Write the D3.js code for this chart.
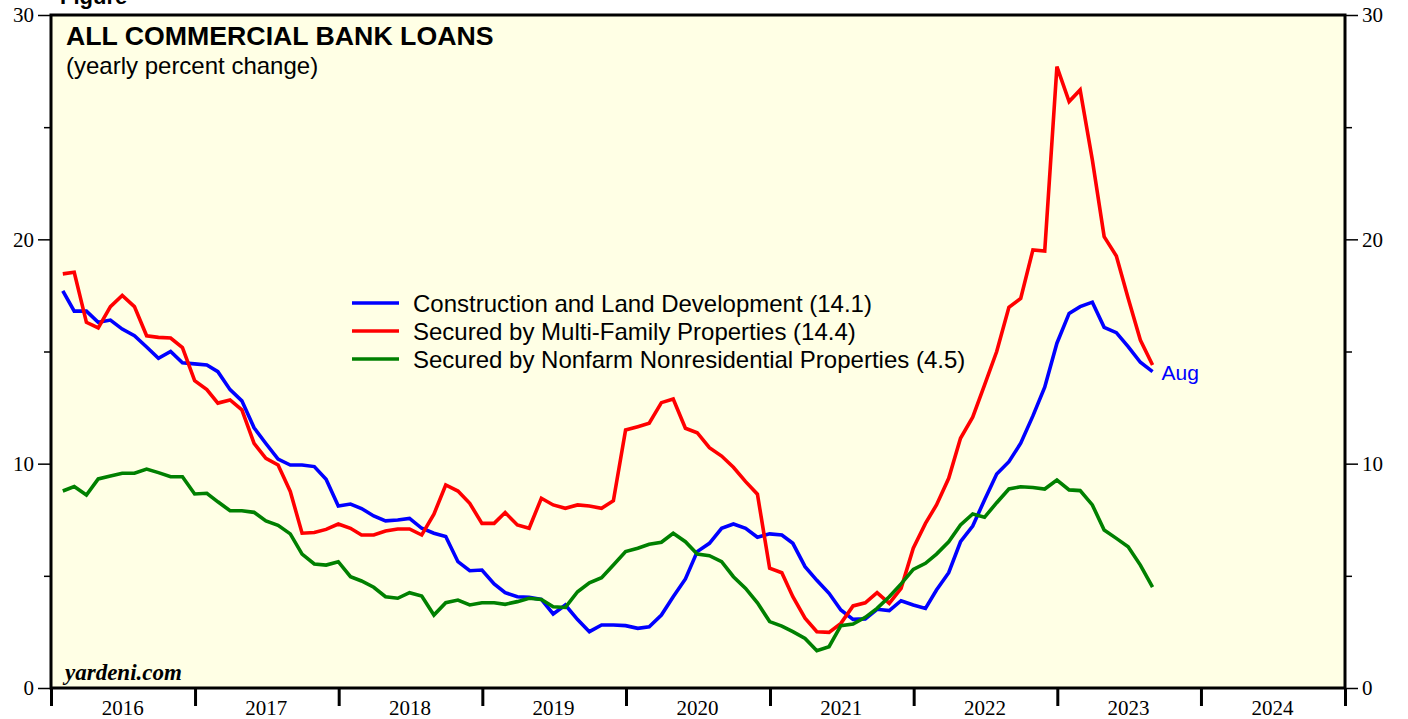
<!DOCTYPE html>
<html>
<head>
<meta charset="utf-8">
<script src="https://cdn.jsdelivr.net/npm/d3@7"></script>
<style>
  body { margin: 0; background: #fff; }
  svg { display: block; }
</style>
</head>
<body>
<svg id="chart"></svg>
<script>
// monthly values, Jan 2016 .. Aug 2023 (yearly % change)
const startYear = 2016;
const construction = [
  17.7, 16.8, 16.8, 16.3, 16.4, 16.0, 15.7, 15.2, 14.7, 15.0,
  14.5, 14.45, 14.4, 14.1, 13.3, 12.8, 11.6, 10.9, 10.2, 9.94,
  9.94, 9.87, 9.3, 8.11, 8.2, 8.0, 7.67, 7.45, 7.49, 7.56,
  7.12, 6.9, 6.75, 5.63, 5.23, 5.26, 4.64, 4.25, 4.07, 4.04,
  3.95, 3.3, 3.7, 3.05, 2.51, 2.81, 2.81, 2.78, 2.66, 2.73,
  3.25, 4.07, 4.86, 6.08, 6.45, 7.12, 7.31, 7.12, 6.72, 6.87,
  6.82, 6.45, 5.41, 4.8, 4.22, 3.48, 3.06, 3.08, 3.51, 3.45,
  3.89, 3.7, 3.55, 4.37, 5.14, 6.52, 7.22, 8.38, 9.54, 10.09,
  10.91, 12.13, 13.41, 15.37, 16.7, 17.0, 17.2, 16.08, 15.84, 15.22,
  14.52, 14.1
];
const multiFamily = [
  18.46, 18.53, 16.3, 16.05, 17.0, 17.5, 17.0, 15.7, 15.63, 15.6,
  15.17, 13.7, 13.3, 12.7, 12.84, 12.4, 10.9, 10.24, 9.94, 8.76,
  6.9, 6.93, 7.07, 7.31, 7.12, 6.82, 6.82, 7.0, 7.09, 7.09,
  6.82, 7.75, 9.05, 8.78, 8.23, 7.34, 7.34, 7.82, 7.27, 7.12,
  8.46, 8.16, 8.01, 8.16, 8.11, 8.01, 8.35, 11.5, 11.65, 11.8,
  12.72, 12.88, 11.58, 11.38, 10.71, 10.34, 9.84, 9.2, 8.64, 5.34,
  5.14, 4.07, 3.11, 2.51, 2.48, 2.88, 3.66, 3.8, 4.25, 3.77,
  4.44, 6.23, 7.34, 8.16, 9.35, 11.13, 12.07, 13.5, 15.0, 16.97,
  17.37, 19.53, 19.48, 27.7, 26.14, 26.66, 23.54, 20.12, 19.26, 17.37,
  15.51, 14.4
];
const nonfarm = [
  8.78, 8.98, 8.6, 9.32, 9.45, 9.57, 9.57, 9.76, 9.6, 9.42,
  9.42, 8.65, 8.68, 8.3, 7.9, 7.9, 7.83, 7.45, 7.25, 6.87,
  5.97, 5.53, 5.48, 5.63, 4.96, 4.77, 4.49, 4.07, 4.0, 4.25,
  4.1, 3.25, 3.8, 3.92, 3.7, 3.8, 3.8, 3.73, 3.85, 4.0,
  3.95, 3.62, 3.59, 4.29, 4.69, 4.92, 5.48, 6.08, 6.23, 6.41,
  6.5, 6.9, 6.52, 5.97, 5.9, 5.63, 4.96, 4.44, 3.8, 2.96,
  2.76, 2.51, 2.21, 1.66, 1.84, 2.78, 2.85, 3.15, 3.55, 4.07,
  4.64, 5.29, 5.56, 5.97, 6.52, 7.27, 7.76, 7.61, 8.26, 8.87,
  8.97, 8.94, 8.87, 9.27, 8.83, 8.8, 8.16, 7.04, 6.67, 6.3,
  5.48, 4.5
];
const seriesNames = [
  "Construction and Land Development (14.1)",
  "Secured by Multi-Family Properties (14.4)",
  "Secured by Nonfarm Nonresidential Properties (4.5)"
];
const seriesColors = ["#0000ff", "#ff0000", "#008000"];
const yearTicks = [2016, 2017, 2018, 2019, 2020, 2021, 2022, 2023, 2024, 2025];
const yMajor = [0, 10, 20, 30];
const yMinor = [5, 15, 25];
const lastLabel = "Aug";

const W = 1408, H = 719;
const margin = { top: 15, right: 63, bottom: 31, left: 51 };
const pw = W - margin.left - margin.right;
const ph = H - margin.top - margin.bottom;

const svg = d3.select("#chart").attr("width", W).attr("height", H);

const sans = "Liberation Sans, Arial, sans-serif";
const serif = "Liberation Serif, Times New Roman, serif";

// cut-off figure caption at the very top
svg.append("text")
  .attr("x", 60).attr("y", 4)
  .style("font-family", sans)
  .style("font-weight", "bold").style("font-size", "22px")
  .text("Figure");

const x = d3.scaleTime()
  .domain([new Date(yearTicks[0], 0, 1), new Date(yearTicks[yearTicks.length - 1], 0, 1)])
  .range([0, pw]);
const y = d3.scaleLinear().domain([0, 30]).range([ph, 0]);

const g = svg.append("g").attr("transform", `translate(${margin.left},${margin.top})`);

g.append("rect")
  .attr("width", pw).attr("height", ph)
  .attr("fill", "#ffffe5");

// lines
const monthDate = i => new Date(startYear, i + 1, 0);
const line = d3.line()
  .x((d, i) => x(monthDate(i)))
  .y(d => y(d));

[construction, multiFamily, nonfarm].forEach((s, k) => {
  g.append("path")
    .datum(s)
    .attr("fill", "none")
    .attr("stroke", seriesColors[k])
    .attr("stroke-width", 3.6)
    .attr("d", line);
});

// frame
g.append("rect")
  .attr("width", pw).attr("height", ph)
  .attr("fill", "none")
  .attr("stroke", "#000").attr("stroke-width", 3);

// y axes (left and right)
const yLeft = d3.axisLeft(y).tickValues(yMajor).tickSize(13).tickPadding(4);
const yRight = d3.axisRight(y).tickValues(yMajor).tickSize(13).tickPadding(4);

const gl = g.append("g").call(yLeft);
const gr = g.append("g").attr("transform", `translate(${pw},0)`).call(yRight);
[gl, gr].forEach(a => {
  a.select(".domain").remove();
  a.selectAll("line").attr("stroke", "#000").attr("stroke-width", 1.5);
  a.selectAll("text").style("font-family", serif).style("font-size", "21px").attr("fill", "#000");
});
g.append("g").call(d3.axisLeft(y).tickValues(yMinor).tickSize(7).tickFormat(""))
  .call(a => a.select(".domain").remove())
  .selectAll("line").attr("stroke", "#000").attr("stroke-width", 1.5);
g.append("g").attr("transform", `translate(${pw},0)`)
  .call(d3.axisRight(y).tickValues(yMinor).tickSize(7).tickFormat(""))
  .call(a => a.select(".domain").remove())
  .selectAll("line").attr("stroke", "#000").attr("stroke-width", 1.5);

// x axis: year boundary ticks, labels mid-year
const gx = g.append("g").attr("transform", `translate(0,${ph})`)
  .call(d3.axisBottom(x).tickValues(yearTicks.map(v => new Date(v, 0, 1))).tickSize(18).tickFormat(""));
gx.select(".domain").remove();
gx.selectAll("line").attr("stroke", "#000").attr("stroke-width", 3);

g.append("g").selectAll("text")
  .data(yearTicks.slice(0, -1))
  .join("text")
  .attr("x", d => x(new Date(d, 6, 1)))
  .attr("y", ph + 27)
  .attr("text-anchor", "middle")
  .style("font-family", serif).style("font-size", "21px")
  .text(d => d);

// titles
g.append("text")
  .attr("x", 15).attr("y", 30)
  .style("font-family", sans).style("font-weight", "bold").style("font-size", "26.7px")
  .text("ALL COMMERCIAL BANK LOANS");
g.append("text")
  .attr("x", 15).attr("y", 59)
  .style("font-family", sans).style("font-size", "24px")
  .text("(yearly percent change)");
g.append("text")
  .attr("x", 14).attr("y", 665)
  .style("font-family", serif).style("font-weight", "bold").style("font-style", "italic")
  .style("font-size", "23px")
  .text("yardeni.com");

// legend
const legend = g.append("g").attr("transform", "translate(301,288)");
const items = legend.selectAll("g").data(seriesNames).join("g")
  .attr("transform", (d, i) => `translate(0,${i * 28})`);
items.append("line")
  .attr("x1", 0).attr("x2", 47)
  .attr("stroke", (d, i) => seriesColors[i]).attr("stroke-width", 3.6);
items.append("text")
  .attr("x", 61).attr("y", 8.5)
  .style("font-family", sans).style("font-size", "24px")
  .text(d => d);

// end label
const lastIdx = construction.length - 1;
g.append("text")
  .attr("x", x(monthDate(lastIdx)) + 9)
  .attr("y", y(construction[lastIdx]) + 8)
  .attr("fill", "#0000ff")
  .style("font-family", sans).style("font-size", "21px")
  .text(lastLabel);
</script>
</body>
</html>
